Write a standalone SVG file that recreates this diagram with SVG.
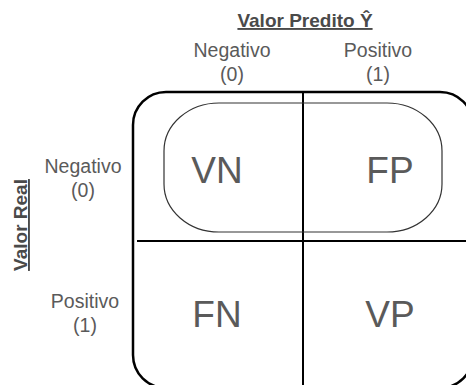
<svg xmlns="http://www.w3.org/2000/svg" width="466" height="385" viewBox="0 0 466 385">
  <style>
    .lbl { font-family: "Liberation Sans", Arial, sans-serif; font-size: 19.5px; fill: #5a5a5a; text-anchor: middle; }
    .axis { font-family: "Liberation Sans", Arial, sans-serif; font-size: 19px; font-weight: bold; fill: #4a4a4a; text-anchor: middle; text-decoration: underline; }
    .cell { font-family: "Liberation Sans", Arial, sans-serif; font-size: 37px; fill: #5a5a5a; text-anchor: middle; }
    .frame { fill: none; stroke: #000; stroke-width: 2.5; }
    .div { fill: none; stroke: #000; stroke-width: 2; }
    .pill { fill: none; stroke: #333; stroke-width: 1.2; }
  </style>
  <rect width="466" height="385" fill="#fff"/>

  <!-- axis titles -->
  <g id="axis-predicted">
    <text class="axis" x="305" y="27">Valor Predito Ŷ</text>
  </g>
  <g id="axis-actual">
    <text class="axis" font-size="18" transform="translate(27,225) rotate(-90)">Valor Real</text>
  </g>

  <!-- column headers -->
  <g id="col-neg">
    <text class="lbl" x="232" y="57">Negativo</text>
    <text class="lbl" x="232" y="81">(0)</text>
  </g>
  <g id="col-pos">
    <text class="lbl" x="378" y="57">Positivo</text>
    <text class="lbl" x="378" y="81">(1)</text>
  </g>

  <!-- row headers -->
  <g id="row-neg">
    <text class="lbl" x="83" y="173">Negativo</text>
    <text class="lbl" x="83" y="197">(0)</text>
  </g>
  <g id="row-pos">
    <text class="lbl" x="85" y="308">Positivo</text>
    <text class="lbl" x="85" y="332">(1)</text>
  </g>

  <!-- matrix frame and dividers -->
  <g id="connectors">
    <rect class="frame" x="133" y="92" width="340" height="296" rx="33" ry="33"/>
    <line class="div" x1="303" y1="92" x2="303" y2="388"/>
    <line class="div" x1="137" y1="241" x2="473" y2="241"/>
    <rect class="pill" x="164" y="103" width="278" height="129" rx="55" ry="48"/>
  </g>

  <!-- cells -->
  <g id="cell-vn"><text class="cell" x="217" y="183">VN</text></g>
  <g id="cell-fp"><text class="cell" x="390" y="183">FP</text></g>
  <g id="cell-fn"><text class="cell" x="217" y="327">FN</text></g>
  <g id="cell-vp"><text class="cell" x="390" y="327">VP</text></g>
</svg>
